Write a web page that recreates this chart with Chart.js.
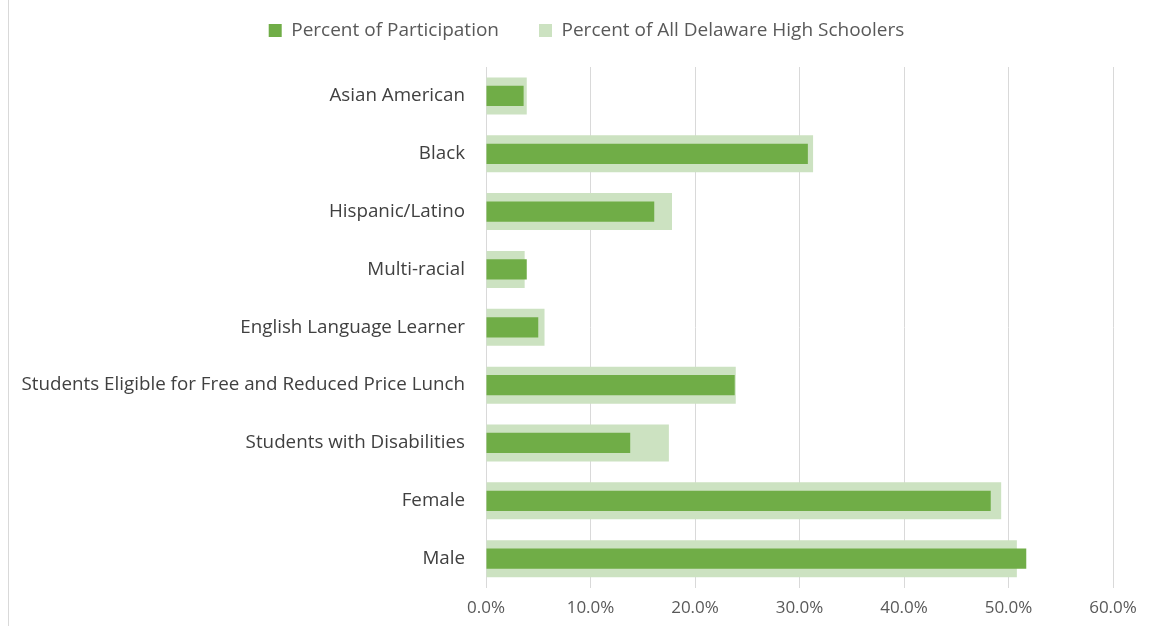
<!DOCTYPE html>
<html>
<head>
<meta charset="utf-8">
<script src="https://cdn.jsdelivr.net/npm/chart.js@4"></script>
<style>
  html, body { margin: 0; padding: 0; background: #fff; }
  #wrap { position: relative; width: 1155px; height: 626px; }
  #wrap::before { content: ""; position: absolute; left: 8px; top: 0; bottom: 0; border-left: 1px solid #d9d9d9; }
</style>
</head>
<body>
<div id="wrap"><canvas id="myChart" width="1155" height="626"></canvas></div>
<script>
const grupos = [
    "Asian American",
    "Black",
    "Hispanic/Latino",
    "Multi-racial",
    "English Language Learner",
    "Students Eligible for Free and Reduced Price Lunch",
    "Students with Disabilities",
    "Female",
    "Male"
];

const participacion = [3.6, 30.8, 16.1, 3.9, 5.0, 23.8, 13.8, 48.3, 51.7];
const todosDelaware = [3.9, 31.3, 17.8, 3.7, 5.6, 23.9, 17.5, 49.3, 50.8];

const ticksX = [0, 10, 20, 30, 40, 50, 60];

const ctx = document.getElementById("myChart").getContext("2d");
Chart.defaults.font.family = "'Open Sans', sans-serif";
Chart.defaults.color = "#595959";

// la leyenda usa padding grande para separar los items; fijamos su alto
// a mano y la corremos un poco a la derecha
const ajusteLeyenda = {
    id: "ajusteLeyenda",
    beforeInit(chart) {
        const fit = chart.legend.fit;
        chart.legend.fit = function () {
            fit.bind(chart.legend)();
            this.height = 86;
        };
    },
    afterLayout(chart) {
        chart.legend.left += 30;
        chart.legend.right += 30;
    },
};

const myChart = new Chart(ctx, {
    type: "bar",
    data: {
        labels: grupos,
        datasets: [
            {
                label: "Percent of Participation",
                data: participacion,
                backgroundColor: "#70ad47",
                grouped: false,
                categoryPercentage: 1,
                barPercentage: 0.35,
            },
            {
                label: "Percent of All Delaware High Schoolers",
                data: todosDelaware,
                backgroundColor: "#cce2c1",
                grouped: false,
                categoryPercentage: 1,
                barPercentage: 0.64,
            },
        ],
    },
    options: {
        indexAxis: "y",
        responsive: false,
        animation: false,
        layout: {
            padding: { left: 0, right: 42, top: -19, bottom: -2 },
        },
        plugins: {
            legend: {
                position: "top",
                labels: {
                    boxWidth: 13,
                    boxHeight: 13,
                    padding: 40,
                    font: { size: 19 },
                    color: "#595959",
                },
            },
            tooltip: { enabled: false },
        },
        scales: {
            x: {
                min: 0,
                max: 60,
                afterBuildTicks: (scale) => {
                    scale.ticks = ticksX.map((v) => ({ value: v }));
                },
                ticks: {
                    callback: (v) => v.toFixed(1) + "%",
                    font: { size: 17 },
                    color: "#595959",
                    padding: 10,
                },
                grid: { color: "#d9d9d9", drawTicks: false },
                border: { display: false },
            },
            y: {
                afterFit: (scale) => {
                    scale.width = 486;
                },
                ticks: {
                    font: { size: 18.8 },
                    color: "#404040",
                    padding: 13,
                },
                grid: { display: false },
                border: { display: true, color: "#d9d9d9" },
            },
        },
    },
    plugins: [ajusteLeyenda],
});
</script>
</body>
</html>
